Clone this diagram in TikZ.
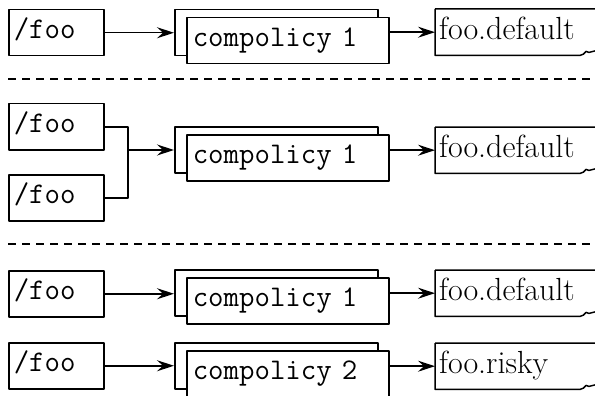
\documentclass[tikz,border=0pt]{standalone}
\usetikzlibrary{arrows.meta}

\tikzset{
  box/.style={draw,line width=1.5pt,minimum height=46pt,anchor=north west,
    align=left,text height=15pt,text depth=4pt},
  srcbox/.style={box,text width=85pt,inner xsep=5pt,
    font=\ttfamily\fontsize{30}{30}\selectfont},
  polback/.style={box,minimum width=203pt,inner sep=0pt},
  polbox/.style={box,fill=white,text width=190pt,inner xsep=6pt,
    font=\ttfamily\fontsize{30}{30}\selectfont},
  outbox/.style={anchor=north west,minimum height=46pt,text width=150pt,
    inner xsep=4pt,align=left,text height=20pt,text depth=6pt,
    font=\rmfamily\fontsize{32}{32}\selectfont},
  arr/.style={line width=1.5pt,-{Stealth[length=17pt,width=11pt,inset=6pt]}},
  sep/.style={line width=1.8pt,dash pattern=on 8pt off 6pt}
}

% file box with a torn lower right corner
\newcommand\tornbox[1]{%
  \draw[line width=1.5pt] (#1.north west) -- ++(165,0)
    (#1.north west) -- (#1.south west) -- ++(145,0)
    .. controls +(3,0) and +(-2,2) .. ++(6,-4) -- ++(3,1) -- ++(8,-2);}

\begin{document}
\begin{tikzpicture}[x=1pt,y=-1pt,line join=round]
  \useasboundingbox (0,0) rectangle (595,396);

  % one source, one policy
  \node[srcbox] (s1) at (8,9) {/foo};
  \node[polback] (pb1) at (174,9) {};
  \node[polbox] (p1) at (186,17) {compolicy 1};
  \node[outbox] (o1) at (435,9) {foo.default};
  \tornbox{o1}
  \draw[arr] (s1.east) -- (s1.east -| pb1.west);
  \draw[arr] (p1.east |- o1.west) -- (o1.west);

  \draw[sep] (8,79) -- (590,79);

  % two sources, one policy
  \node[srcbox] (s2a) at (8,103) {/foo};
  \node[srcbox] (s2b) at (8,174) {/foo};
  \coordinate (j2) at (128,150);
  \node[polback] (pb2) at (174,126) {};
  \node[polbox] (p2) at (186,134) {compolicy 1};
  \node[outbox] (o2) at (435,127) {foo.default};
  \tornbox{o2}
  \draw[line width=1.5pt] (s2a.east) -| (j2) |- (s2b.east);
  \draw[arr] (j2) -- (j2 -| pb2.west);
  \draw[arr] (p2.east |- o2.west) -- (o2.west);

  \draw[sep] (8,244) -- (590,244);

  % two sources, two policies
  \node[srcbox] (s3) at (8,270) {/foo};
  \node[polback] (pb3) at (174,269) {};
  \node[polbox] (p3) at (186,277) {compolicy 1};
  \node[outbox] (o3) at (435,270) {foo.default};
  \tornbox{o3}
  \draw[arr] (s3.east) -- (s3.east -| pb3.west);
  \draw[arr] (p3.east |- o3.west) -- (o3.west);

  \node[srcbox] (s4) at (8,342) {/foo};
  \node[polback] (pb4) at (174,342) {};
  \node[polbox] (p4) at (186,350) {compolicy 2};
  \node[outbox] (o4) at (435,343) {foo.risky};
  \tornbox{o4}
  \draw[arr] (s4.east) -- (s4.east -| pb4.west);
  \draw[arr] (p4.east |- o4.west) -- (o4.west);

\end{tikzpicture}
\end{document}
